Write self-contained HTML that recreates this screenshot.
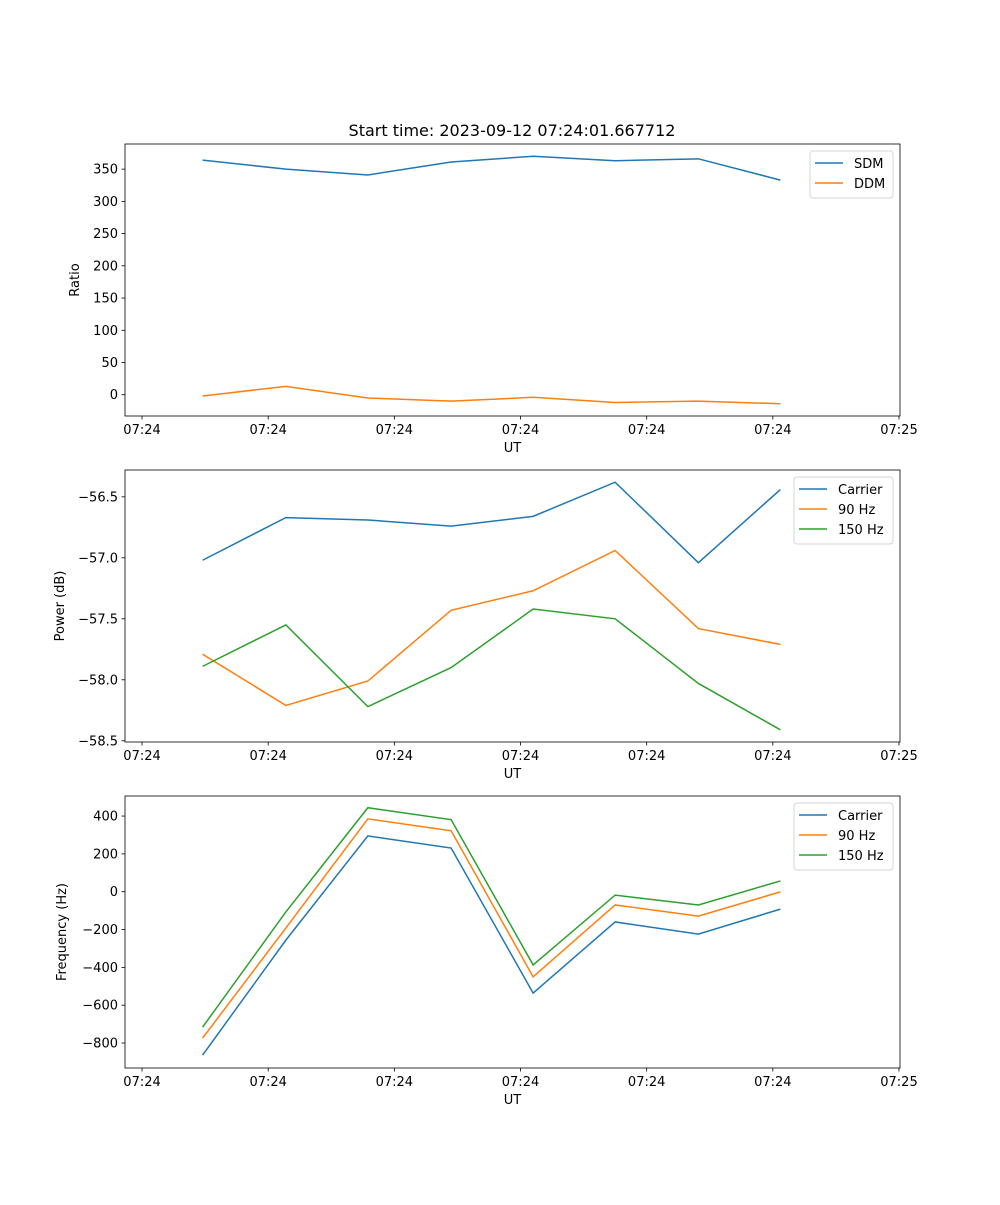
<!DOCTYPE html>
<html><head><meta charset="utf-8"><style>
body{margin:0;background:#fff}
svg text{font-family:"DejaVu Sans","Liberation Sans",sans-serif;fill:#000}
</style></head><body>
<svg id="fig" width="1000" height="1200" xmlns="http://www.w3.org/2000/svg">
<rect width="1000" height="1200" fill="#fff"/>
<text x="512" y="136" font-size="16" text-anchor="middle">Start time: 2023-09-12 07:24:01.667712</text>
</svg>
<script>
const times = [4.8, 11.4, 17.9, 24.5, 31.0, 37.5, 44.1, 50.6];
const xTickVals = [0, 10, 20, 30, 40, 50, 60];
const xTickLabels = ["07:24","07:24","07:24","07:24","07:24","07:24","07:25"];
const sdm = [364, 350, 341, 361, 370, 363, 366, 333];
const ddm = [-2, 13, -5, -10, -4, -12, -10, -14];
const pCarrier = [-57.02, -56.67, -56.69, -56.74, -56.66, -56.38, -57.04, -56.44];
const p90 = [-57.79, -58.21, -58.01, -57.43, -57.27, -56.94, -57.58, -57.71];
const p150 = [-57.89, -57.55, -58.22, -57.90, -57.42, -57.50, -58.03, -58.41];
const fCarrier = [-864, -256, 295, 231, -536, -160, -224, -92];
const f90 = [-774, -192, 385, 322, -450, -70, -129, -1];
const f150 = [-716, -107, 444, 381, -387, -18, -70, 57];
const ratioTicks = [0, 50, 100, 150, 200, 250, 300, 350];
const powerTicks = [-58.5, -58.0, -57.5, -57.0, -56.5];
const powerTickLabels = ["−58.5","−58.0","−57.5","−57.0","−56.5"];
const freqTicks = [-800, -600, -400, -200, 0, 200, 400];
const freqTickLabels = ["−800","−600","−400","−200","0","200","400"];

const NS="http://www.w3.org/2000/svg", svg=document.getElementById('fig');
const C=['#1f77b4','#ff7f0e','#2ca02c'];
function mk(t,a,p){const e=document.createElementNS(NS,t);for(const k in a)e.setAttribute(k,a[k]);(p||svg).appendChild(e);return e;}
const L=125,R=900,XMIN=-1.35,XMAX=60.08;
const xs=v=>L+(v-XMIN)/(XMAX-XMIN)*(R-L);

function panel(name,top,bot,ymin,ymax,yt,ytl,ylabel,ylx,series,names,leg){
  const ys=v=>bot-(v-ymin)/(ymax-ymin)*(bot-top);
  const g=mk('g',{});
  
  
  series.forEach((s,i)=>{
    const p=mk('polyline',{points:times.map((t,j)=>xs(t)+','+ys(s[j])).join(' '),fill:'none',stroke:C[i],'stroke-width':1.5},g);
    
    
  });
  mk('rect',{x:L,y:top,width:R-L,height:bot-top,fill:'none',stroke:'#000','stroke-width':0.8},g);
  xTickVals.forEach((v,i)=>{
    const x=xs(v);
    mk('line',{x1:x,x2:x,y1:bot,y2:bot+3.5,stroke:'#000','stroke-width':0.8},g);
    const t=mk('text',{x:x,y:bot+18,'font-size':13,'text-anchor':'middle'},g);t.textContent=xTickLabels[i];
    
    
  });
  const xl=mk('text',{x:(L+R)/2,y:bot+36,'font-size':13,'text-anchor':'middle'},g);xl.textContent='UT';
  
  
  yt.forEach((v,i)=>{
    const y=ys(v);
    mk('line',{x1:L-3.5,x2:L,y1:y,y2:y,stroke:'#000','stroke-width':0.8},g);
    const t=mk('text',{x:L-7,y:y+4.5,'font-size':13,'text-anchor':'end'},g);t.textContent=ytl[i];
    
    
  });
  const yl=mk('text',{x:ylx,y:(top+bot)/2,'font-size':13,'text-anchor':'middle',transform:`rotate(-90 ${ylx} ${(top+bot)/2})`},g);yl.textContent=ylabel;
  
  
  const lg=mk('g',{},g);
  
  
  mk('rect',{x:leg[0],y:top+7,width:893-leg[0],height:names.length*20+7,rx:3,fill:'#fff',stroke:'#ccc','stroke-width':1,opacity:0.8},lg);
  names.forEach((n,i)=>{
    const y=top+19+i*20;
    mk('line',{x1:leg[0]+5,x2:leg[0]+33,y1:y,y2:y,stroke:C[i],'stroke-width':1.5},lg);
    const t=mk('text',{x:leg[0]+44,y:y+5,'font-size':13},lg);t.textContent=n;
    
    
  });
}
panel('ratio',144,416,-33,389,ratioTicks,ratioTicks.map(String),'Ratio',79,[sdm,ddm],['SDM','DDM'],[810]);
panel('power',470,742,-58.51,-56.28,powerTicks,powerTickLabels,'Power (dB)',64,[pCarrier,p90,p150],['Carrier','90 Hz','150 Hz'],[794]);
panel('frequency',796,1068,-932,506,freqTicks,freqTickLabels,'Frequency (Hz)',66,[fCarrier,f90,f150],['Carrier','90 Hz','150 Hz'],[794]);
</script>
</body></html>
